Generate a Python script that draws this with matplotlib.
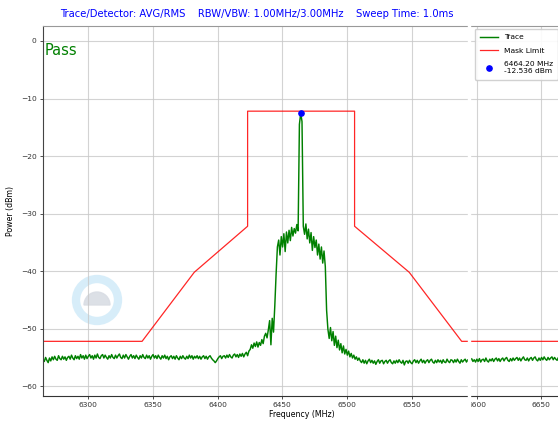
import matplotlib
matplotlib.use('Agg')
import matplotlib.pyplot as plt
from matplotlib.patches import Circle, Wedge, Rectangle
import numpy as np


fname = 'out.png'
title = 'Trace/Detector: AVG/RMS    RBW/VBW: 1.00MHz/3.00MHz    Sweep Time: 1.0ms'
xtitle = 'Frequency (MHz)'
ytitle = 'Power (dBm)'

# sweep: 401 points, 1 MHz apart
f_start = 6265.2
f_step = 1.0

# trace (dBm)
floor_left = [
    -55.3, -55.7, -55.0, -55.5, -55.9, -55.1, -55.6, -54.9, -55.4, -54.8,
    -55.3, -55.5, -54.7, -55.2, -55.4, -54.8, -55.3, -54.9, -55.5, -55.0,
    -54.8, -55.3, -54.6, -55.1, -55.4, -54.7, -55.2, -54.8, -55.3, -54.5,
    -55.1, -54.7, -55.3, -54.6, -55.2, -54.8, -54.5, -55.1, -54.7, -55.3,
    -54.6, -55.1, -54.4, -55.0, -55.2, -54.7, -54.5, -55.1, -54.6, -55.0,
    -55.3, -54.7, -55.1, -54.5, -55.0, -55.2, -54.6, -55.1, -54.7, -54.4,
    -55.0, -55.2, -54.6, -55.1, -54.5, -54.9, -55.3, -54.8, -54.5, -55.1,
    -54.7, -55.2, -54.6, -55.0, -55.3, -54.7, -55.1, -54.5, -55.0, -55.2,
    -54.6, -55.1, -54.7, -55.3, -54.8, -54.5, -55.1, -54.7, -55.2, -54.6,
    -55.0, -55.3, -54.7, -55.1, -54.6, -55.2, -54.8, -55.4, -54.9, -54.7,
    -55.2, -54.8, -55.3, -54.7, -55.1, -55.4, -54.8, -55.2, -54.7, -55.1,
    -55.3, -54.8, -55.2, -54.6, -55.1, -54.7, -55.3, -54.8, -55.1, -54.7,
    -55.2, -54.8, -55.3, -54.9, -54.7, -55.2, -54.8, -55.3, -54.9, -54.7,
    -55.1, -55.4, -55.6, -55.9, -55.6, -55.2, -54.9, -54.7, -55.2, -54.8,
    -54.7, -55.1, -54.6, -55.0, -54.5, -54.9, -55.1, -54.6, -54.4, -54.9,
    -54.5, -55.0, -54.4, -54.8, -54.3, -54.9, -54.4, -54.1, -54.7, -53.9,
]
shoulder_left = [
    -53.6, -52.8, -53.4, -52.5, -53.1, -52.3, -53.2, -52.4, -52.9, -51.9,
    -52.6, -51.3, -50.8, -51.6, -50.2, -48.6, -52.8, -48.2, -50.6, -46.0,
    -40.5, -35.8,
]
plateau_left = [
    -34.6, -37.2, -34.0, -35.8, -33.5, -36.6, -33.2, -35.1, -32.9, -34.7,
    -32.4, -33.9, -32.6, -33.4, -31.9,
]
spike = [-33.0, -14.5, -12.536, -14.0, -32.2]
plateau_right = [
    -33.6, -31.8, -34.4, -32.7, -35.1, -33.3, -36.4, -34.0, -35.9, -34.6,
    -37.2, -35.3, -37.9, -35.8, -38.6, -36.5, -39.2,
]
shoulder_right = [
    -46.8, -50.1, -51.7, -49.8, -52.1, -50.5, -52.9, -51.3, -53.3, -52.0,
    -53.7, -52.6, -54.2, -53.0, -54.4, -53.6, -54.6, -53.9, -54.9, -54.3,
    -55.1, -54.6, -55.3, -54.9, -55.5, -55.1, -55.6,
]
floor_right = [
    -55.9, -55.4, -56.0, -55.5, -56.1, -55.6, -55.3, -55.9, -55.5, -56.0,
    -55.6, -56.2, -55.7, -55.4, -56.0, -55.6, -55.5, -56.1, -55.7, -55.5,
    -56.0, -55.6, -55.4, -55.9, -56.1, -55.6, -56.0, -55.5, -55.9, -55.4,
    -55.8, -56.0, -55.5, -56.3, -55.7, -55.6, -56.0, -55.5, -55.9, -56.1,
    -55.6, -55.4, -55.9, -55.5, -56.0, -55.6, -55.3, -55.9, -55.5, -56.0,
    -55.6, -55.4, -55.9, -55.5, -55.3, -55.8, -56.0, -55.5, -55.9, -55.4,
    -55.8, -55.5, -56.0, -55.4, -55.8, -55.9, -55.3, -55.7, -55.9, -55.4,
    -55.5, -55.9, -55.4, -55.8, -55.3, -55.7, -56.0, -55.4, -55.8, -55.5,
    -55.3, -55.8, -55.4, -55.9, -55.5, -55.2, -55.7, -55.4, -55.8, -55.3,
    -55.7, -55.2, -55.8, -55.4, -55.3, -55.7, -55.1, -55.6, -55.8, -55.3,
    -55.6, -55.2, -55.7, -55.3, -55.1, -55.6, -55.2, -55.7, -55.3, -55.1,
    -55.6, -55.2, -55.0, -55.5, -55.7, -55.2, -55.6, -55.1, -55.5, -55.2,
    -55.0, -55.5, -55.1, -55.6, -55.2, -54.9, -55.4, -55.5, -55.1, -55.6,
    -55.2, -55.0, -55.5, -55.1, -54.9, -55.4, -55.6, -55.1, -55.5, -55.0,
    -55.4, -54.9, -55.3, -55.5, -55.0, -55.4, -55.1, -54.9, -55.4, -55.0,
    -55.3, -55.5, -55.0, -55.4, -54.9,
]

# spectrum mask corners
mask_freq = [6265.2, 6341.7, 6382.0, 6423.2, 6423.2, 6505.8, 6505.8, 6548.0, 6588.5, 6665.2]
mask_level = [-52.2, -52.2, -40.2, -32.2, -12.2, -12.2, -32.2, -40.2, -52.2, -52.2]

# peak marker
peak_freq = 6464.20
peak_level = -12.536

xticks = [6300, 6350, 6400, 6450, 6500, 6550, 6600, 6650]
yticks = [0, -10, -20, -30, -40, -50, -60]

#-----

trace = np.array(floor_left + shoulder_left + plateau_left + spike
                 + plateau_right + shoulder_right + floor_right)
freq = f_start + f_step * np.arange(len(trace))

fsz = 5.4

fig = plt.figure(figsize=(5.58, 4.21), dpi=100)
ax = fig.add_axes([43 / 558, 1 - 396 / 421, 518 / 558, 370 / 421])

ax.plot(freq, trace, color='green', lw=1.05, label='Trace')
ax.plot(mask_freq, mask_level, color='red', lw=0.9, alpha=0.85, label='Mask Limit')
ax.plot(peak_freq, peak_level, 'o', color='blue', markersize=3.8,
        label='{:.2f} MHz\n{:.3f} dBm'.format(peak_freq, peak_level))

ax.set_xlim(freq[0], freq[-1])
ax.set_ylim(-61.7, 2.6)
ax.set_xticks(xticks)
ax.set_yticks(yticks)
ax.grid(True, color='#c8c8c8', lw=0.8, alpha=0.8)
ax.tick_params(labelsize=fsz, length=2.5, width=0.6, pad=2, colors='#333333')
ax.set_xlabel(xtitle, fontsize=fsz + 0.3, labelpad=1)
ax.set_ylabel(ytitle, fontsize=fsz + 0.3, labelpad=4)

ax.spines['left'].set_color('#444444')
ax.spines['bottom'].set_color('#333333')
ax.spines['top'].set_color('#999999')
for s in ax.spines.values():
    s.set_linewidth(0.8)

ax.text(0.004, 0.9216, 'Pass', transform=ax.transAxes, color='green',
        fontsize=10.5, va='baseline', ha='left')

leg = ax.legend(loc='upper right', fontsize=fsz, borderaxespad=0.35,
                handlelength=2.4, labelspacing=1.0, borderpad=0.7,
                framealpha=0.9)

fig.text(257 / 558, 1 - 14 / 421, title, color='blue', fontsize=7.2,
         ha='center', va='center')

# faint logo watermark
ring = Circle((0.97, 1.21), 0.21, transform=fig.dpi_scale_trans, fill=False,
              lw=6.0, color='#d3ecf9', alpha=0.9, zorder=1)
dome = Wedge((0.97, 1.16), 0.13, 0, 180, transform=fig.dpi_scale_trans,
             color='#d9dde4', alpha=0.9, zorder=1)
ax.add_patch(ring)
ax.add_patch(dome)

# white seam in the screenshot
fig.add_artist(Rectangle((467.5 / 558, 0), 2.5 / 558, 1, transform=fig.transFigure,
                         color='white', zorder=10))

#plt.show()
plt.savefig(fname, dpi=100)
